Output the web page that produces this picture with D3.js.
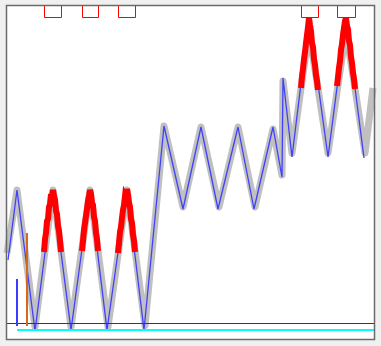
<!DOCTYPE html>
<html lang="en">
<head>
    <meta charset="UTF-8">
    <title>Signal</title>
    <script src="https://d3js.org/d3.v7.min.js"></script>
    <style>
        html, body { margin: 0; padding: 0; background: #f0f0f0; }
        svg { display: block; }
    </style>
</head>
<body>
    <svg id="chart" width="381" height="346"></svg>
    <script>
        // blue reference signal (vertices: sample, counts)
        var signalX = [1, 10, 28, 46, 64, 83, 100, 120, 137, 157, 176, 194, 211, 231, 247, 266, 275, 276, 285, 302, 321, 339, 357];
        var signalY = [71, 141, 0, 141, 1, 141, 1, 142, 1, 205, 122, 204, 122, 204, 122, 204, 154, 253, 174, 313, 174, 313, 173];

        // noisy measurement (gray band)
        var noisyX = [0, 10, 28, 46, 64, 83, 101, 120, 138, 157, 176, 194, 212, 231, 248, 266, 275, 276, 285, 302, 321, 339, 358, 366];
        var noisyY = [78, 141, 4, 141, 4, 141, 4, 141, 5, 205, 124, 204, 124, 204, 124, 202, 156, 250, 178, 300, 178, 300, 178, 243];

        // detected peak intervals
        var peakStart = [37, 75, 111, 294, 330];
        var peakEnd = [54, 91, 128, 311, 348];
        var boxTop = 326;
        var boxBottom = 314;

        // noisy samples above threshold (red)
        var peakSamples = [
            [[37,79],[38,92],[39,98],[40,110],[41,112],[42,124],[43,127],[44,137],[45,134],[46,141],[47,135],[48,131],[49,120],[50,117],[51,105],[52,100],[53,90],[54,79]],
            [[75,80],[76,90],[77,101],[78,108],[79,115],[80,122],[81,130],[82,135],[83,141],[84,137],[85,128],[86,126],[87,114],[88,110],[89,98],[90,92],[91,80]],
            [[111,78],[112,88],[113,99],[114,104],[115,113],[116,121],[117,126],[118,135],[119,133],[120,142],[121,136],[122,128],[123,124],[124,112],[125,108],[126,96],[127,90],[128,79]],
            [[294,243],[295,255],[296,262],[297,272],[298,279],[299,288],[300,296],[301,304],[302,313],[303,306],[304,300],[305,288],[306,284],[307,272],[308,266],[309,256],[310,250],[311,241]],
            [[330,245],[331,254],[332,263],[333,270],[334,281],[335,287],[336,296],[337,303],[338,310],[339,313],[340,305],[341,302],[342,290],[343,286],[344,274],[345,268],[346,258],[347,252],[348,242]]
        ];

        // markers
        var markerX = [10, 20];
        var markerTop = [52, 98];
        var markerBottom = 5;
        var markerColors = ["#3c3cff", "#d2691e"];
        var baselineLevel = 7.5;
        var floorLevel = 1;
        var floorStart = 10;

        var svg = d3.select("#chart");
        var x = d3.scaleLinear().domain([0, 366]).range([7, 373]);
        var y = d3.scaleLinear().domain([0, 320]).range([331, 11]);

        // plot background
        svg.append("rect")
            .attr("x", 6).attr("y", 5)
            .attr("width", 368).attr("height", 335)
            .attr("fill", "#fff");

        var line = d3.line().x(d => x(d[0])).y(d => y(d[1]));

        svg.append("path")
            .attr("d", line(d3.zip(noisyX, noisyY)))
            .attr("fill", "none")
            .attr("stroke", "#c0c0c0")
            .attr("stroke-width", 7)
            .attr("stroke-linejoin", "round");

        svg.append("path")
            .attr("d", line(d3.zip(signalX, signalY)))
            .attr("fill", "none")
            .attr("stroke", "#4040ff")
            .attr("stroke-width", 1.3);

        svg.selectAll(".peak")
            .data(peakSamples)
            .join("path")
            .attr("class", "peak")
            .attr("d", line)
            .attr("fill", "none")
            .attr("stroke", "#ff0000")
            .attr("stroke-width", 6);

        // peak boxes at the top (open towards the frame)
        svg.selectAll(".box")
            .data(d3.range(peakStart.length))
            .join("path")
            .attr("class", "box")
            .attr("d", i => {
                var x0 = Math.round(x(peakStart[i])) + 0.5,
                    x1 = Math.round(x(peakEnd[i])) + 0.5,
                    y0 = y(boxTop),
                    y1 = Math.round(y(boxBottom)) + 0.5;
                return "M" + x0 + "," + y0 + "V" + y1 + "H" + x1 + "V" + y0;
            })
            .attr("fill", "none")
            .attr("stroke", "#ff0000")
            .attr("stroke-width", 1);

        // baseline and floor
        svg.append("line")
            .attr("x1", 6).attr("x2", 374)
            .attr("y1", y(baselineLevel)).attr("y2", y(baselineLevel))
            .attr("stroke", "#006400").attr("stroke-width", 1);

        svg.append("line")
            .attr("x1", x(floorStart)).attr("x2", 374)
            .attr("y1", y(floorLevel)).attr("y2", y(floorLevel))
            .attr("stroke", "#00ffff").attr("stroke-width", 2);

        svg.selectAll(".marker")
            .data(markerX)
            .join("line")
            .attr("class", "marker")
            .attr("x1", d => x(d)).attr("x2", d => x(d))
            .attr("y1", (d, i) => y(markerTop[i]))
            .attr("y2", y(markerBottom))
            .attr("stroke", (d, i) => markerColors[i])
            .attr("stroke-width", 2);

        // frame
        svg.append("rect")
            .attr("x", 6.5).attr("y", 5.5)
            .attr("width", 368).attr("height", 334)
            .attr("fill", "none")
            .attr("stroke", "#6a6a6a")
            .attr("stroke-width", 1.5);
    </script>
</body>
</html>
